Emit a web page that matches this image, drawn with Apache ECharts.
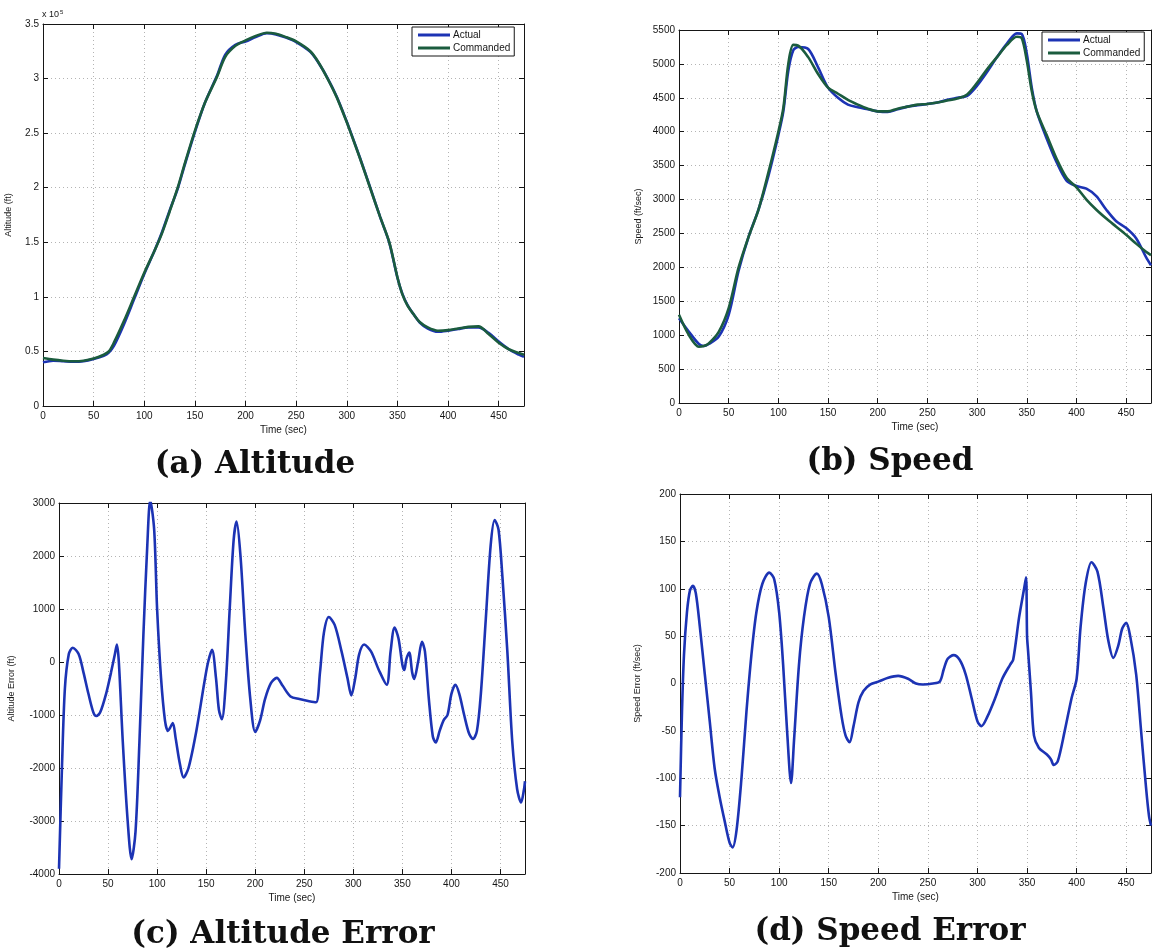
<!DOCTYPE html>
<html>
<head>
<meta charset="utf-8">
<title>Trajectory tracking</title>
<script src="https://cdn.jsdelivr.net/npm/echarts@6/dist/echarts.min.js"></script>
<style>
  html, body { margin: 0; padding: 0; background: #fff; }
  #chart { width: 1154px; height: 951px; }
</style>
</head>
<body>
<div id="chart"></div>
<script>
// ---- Altitude (ft) vs time (sec)
const altTime = [0,10,20,30,40,50,60,65,70,80,90,100,110,117,125,133,140,150,160,172,180,190,200,210,221,230,240,250,264,272,281,290,300,304,313,323,333,342,350,355,360,366,372,380,390,400,410,420,430,440,450,460,470,475];
const altCommanded = [44000,42500,41500,41000,41500,43500,47000,50000,58000,78000,100000,122000,142000,157000,178000,200000,222000,252000,278000,302000,320000,330000,335000,339000,342000,341000,338000,334000,325000,315000,300000,283000,260000,250000,227000,200000,173000,150000,118000,102000,92000,84000,77000,72000,69000,69500,71000,72500,73000,66000,58000,52000,48500,47000];
const altActual = [40000,41500,41000,40500,41000,43000,46000,49000,55000,75000,98000,121000,142000,158000,179000,199000,221000,251000,278000,303000,322000,331000,334000,338000,341500,340500,337500,333500,324500,314500,300500,283500,260500,250500,227500,200500,173000,149500,117500,102500,92500,84000,76500,71000,68000,69000,70500,72000,72000,67000,59000,52000,47000,45000];

// ---- Speed (ft/sec) vs time (sec)
const spdTime = [0,10,20,25,30,40,50,60,70,80,90,100,105,110,115,120,130,140,150,160,170,180,190,200,210,220,230,240,250,260,270,280,290,300,310,320,330,340,345,350,355,360,370,380,390,400,410,420,430,440,450,460,470,475];
const spdCommanded = [1300,1000,830,840,880,1050,1400,2000,2450,2850,3400,4000,4350,5000,5280,5270,5100,4850,4650,4560,4470,4400,4340,4300,4300,4340,4370,4400,4410,4430,4460,4490,4550,4720,4920,5100,5280,5400,5380,5050,4600,4300,3950,3600,3320,3180,3000,2850,2720,2600,2480,2350,2230,2180];
const spdActual = [1250,1050,870,840,870,980,1300,1950,2450,2850,3350,3950,4300,4900,5200,5250,5220,4950,4650,4500,4400,4360,4330,4300,4290,4330,4370,4390,4410,4430,4470,4500,4530,4680,4880,5100,5300,5450,5440,5150,4650,4300,3900,3550,3280,3200,3160,3050,2850,2680,2580,2430,2150,2030];

// ---- Altitude error (ft)
const altErrTime = [0,3,6,10,14,20,25,30,35,38,42,48,53,57,59,61,65,70,74,78,82,86,90,93,97,100,104,108,111,113,116,119,123,127,132,140,148,152,156,160,163,166,170,174,178,181,185,190,195,200,205,210,216,222,228,236,245,255,262,266,270,275,281,288,294,298,302,306,311,318,326,334,338,342,346,350,352,354,357,360,362,366,370,373,377,381,384,388,392,396,400,404,408,413,418,422,426,430,435,440,444,448,452,457,462,467,471,474,475];
const altErr = [-3900,-2000,-500,150,270,150,-200,-600,-950,-1020,-950,-600,-200,150,330,0,-1500,-3000,-3720,-3200,-1500,500,2200,3050,2500,1000,-300,-1100,-1300,-1250,-1150,-1450,-1900,-2180,-2000,-1300,-400,0,230,-300,-900,-1080,-400,1000,2300,2650,2000,500,-700,-1320,-1100,-700,-400,-300,-450,-650,-700,-740,-760,-200,550,850,700,200,-300,-630,-300,150,330,200,-150,-430,200,650,450,-50,-150,50,180,-200,-320,0,380,200,-700,-1400,-1520,-1300,-1100,-1000,-600,-430,-600,-1000,-1350,-1450,-1300,-600,800,2200,2680,2500,1600,200,-1500,-2400,-2650,-2400,-2250];

// ---- Speed error (ft/sec)
const spdErrTime = [0,2,4,7,10,13,16,20,25,30,35,40,45,50,53,57,62,67,72,77,83,90,95,100,104,108,112,115,120,125,131,138,143,150,157,163,167,171,175,180,185,192,200,210,220,230,238,245,255,262,266,270,276,282,288,294,300,304,310,318,325,333,336,342,347,349,350,351,354,357,362,370,374,377,381,388,395,400,404,409,415,421,427,432,437,442,446,450,454,460,465,470,473,475];
const spdErr = [-120,-30,30,75,98,103,95,60,10,-40,-90,-120,-145,-168,-173,-155,-100,-30,30,75,105,117,110,75,20,-50,-105,-60,20,70,105,116,105,70,10,-35,-55,-62,-45,-20,-8,-1,2,6,8,5,0,-1,0,2,15,26,30,25,10,-15,-40,-45,-35,-15,5,20,25,70,100,112,50,35,-10,-55,-68,-75,-80,-86,-82,-50,-15,5,60,105,128,118,80,45,27,40,58,64,50,10,-50,-110,-140,-150];

// ---- Tick settings
const timeMax = 475, timeStep = 50;
const altMax = 350000, altStep = 50000;
const spdMax = 5500, spdStep = 500;
const altErrMin = -4000, altErrMax = 3000, altErrStep = 1000;
const spdErrMin = -200, spdErrMax = 200, spdErrStep = 50;

const pairs = (xs, ys) => xs.map((x, i) => [x, ys[i]]);

const SANS = 'Liberation Sans, Arial, Helvetica, sans-serif';
const INK = '#161616';
const BLUE = '#1c33b4';
const GREEN = '#1b5c3e';

const grids = [
  { left: 43,  top: 24,  width: 481, height: 382 },   // (a)
  { left: 679, top: 30,  width: 472, height: 373 },   // (b)
  { left: 59,  top: 503, width: 466, height: 371 },   // (c)
  { left: 680, top: 494, width: 471, height: 379 }    // (d)
];

const gridLine = { show: true, lineStyle: { color: '#b4b4b4', type: [1, 3], width: 1 } };
const axisLine = { show: true, onZero: false, lineStyle: { color: INK, width: 1 } };
const tickIn = { show: true, inside: true, length: 5, lineStyle: { color: INK } };
const labelStyle = { color: INK, fontFamily: SANS, fontSize: 10 };
const plain = v => String(v);

function timeAxis(gi) {
  return {
    type: 'value', gridIndex: gi, min: 0, max: timeMax, interval: timeStep,
    name: 'Time (sec)', nameLocation: 'middle', nameGap: 19,
    nameTextStyle: { color: INK, fontFamily: SANS, fontSize: 10 },
    axisLine, axisTick: tickIn, splitLine: gridLine,
    axisLabel: Object.assign({ margin: 5, showMaxLabel: false, formatter: plain }, labelStyle)
  };
}
function timeAxisTop(gi) {
  return {
    type: 'value', gridIndex: gi, position: 'top', min: 0, max: timeMax, interval: timeStep,
    axisLine, axisTick: tickIn, splitLine: { show: false }, axisLabel: { show: false }
  };
}
function valueAxis(gi, min, max, step, name, gap, fmt) {
  return {
    type: 'value', gridIndex: gi, min, max, interval: step,
    name, nameLocation: 'middle', nameGap: gap,
    nameTextStyle: { color: INK, fontFamily: SANS, fontSize: 9 },
    axisLine, axisTick: tickIn, splitLine: gridLine,
    axisLabel: Object.assign({ margin: 4, formatter: fmt || plain }, labelStyle)
  };
}
function valueAxisRight(gi, min, max, step) {
  return {
    type: 'value', gridIndex: gi, position: 'right', min, max, interval: step,
    axisLine, axisTick: tickIn, splitLine: { show: false }, axisLabel: { show: false }
  };
}

const xAxis = [];
const yAxis = [];
for (let g = 0; g < 4; g++) { xAxis.push(timeAxis(g)); }
for (let g = 0; g < 4; g++) { xAxis.push(timeAxisTop(g)); }
yAxis.push(valueAxis(0, 0, altMax, altStep, 'Altitude (ft)', 30, v => String(v / 1e5)));
yAxis.push(valueAxis(1, 0, spdMax, spdStep, 'Speed (ft/sec)', 36));
yAxis.push(valueAxis(2, altErrMin, altErrMax, altErrStep, 'Altitude Error (ft)', 43));
yAxis.push(valueAxis(3, spdErrMin, spdErrMax, spdErrStep, 'Speed Error (ft/sec)', 38));
yAxis.push(valueAxisRight(0, 0, altMax, altStep));
yAxis.push(valueAxisRight(1, 0, spdMax, spdStep));
yAxis.push(valueAxisRight(2, altErrMin, altErrMax, altErrStep));
yAxis.push(valueAxisRight(3, spdErrMin, spdErrMax, spdErrStep));

function line(name, gi, data, color) {
  return {
    name, type: 'line', xAxisIndex: gi, yAxisIndex: gi, data,
    symbol: 'none', smooth: 0.3, clip: true,
    lineStyle: { color, width: 2.6 }, itemStyle: { color },
    animation: false
  };
}

const series = [
  line('Actual', 0, pairs(altTime, altActual), BLUE),
  line('Commanded', 0, pairs(altTime, altCommanded), GREEN),
  line('Actual', 1, pairs(spdTime, spdActual), BLUE),
  line('Commanded', 1, pairs(spdTime, spdCommanded), GREEN),
  line('Altitude Error', 2, pairs(altErrTime, altErr), BLUE),
  line('Speed Error', 3, pairs(spdErrTime, spdErr), BLUE)
];

function legendBox(left, top) {
  return {
    data: ['Actual', 'Commanded'], orient: 'vertical', left, top,
    backgroundColor: '#fff', borderColor: INK, borderWidth: 1,
    padding: [3, 4, 3, 6], itemGap: 3, itemWidth: 32, itemHeight: 3,
    icon: 'rect', selectedMode: false,
    textStyle: { color: INK, fontFamily: SANS, fontSize: 10, padding: [0, 0, 0, -2] }
  };
}

const captionFont = 'bold 31px "DejaVu Serif", serif';
function caption(text, cx, cy) {
  return {
    type: 'text', x: cx, y: cy,
    style: { text, font: captionFont, fill: '#111', align: 'center', verticalAlign: 'middle' }
  };
}

const chart = echarts.init(document.getElementById('chart'), null, { renderer: 'canvas' });
chart.setOption({
  backgroundColor: '#fff',
  animation: false,
  grid: grids.map(g => Object.assign({ containLabel: false }, g)),
  xAxis, yAxis, series,
  legend: [legendBox(412, 27), legendBox(1042, 32)],
  graphic: [
    {
      type: 'text', x: 42, y: 9,
      style: {
        text: '{b|x 10}{s|5}', font: '9px ' + SANS, fill: INK,
        rich: { b: { fontFamily: SANS, fontSize: 9, fill: INK }, s: { fontFamily: SANS, fontSize: 6, fill: INK, verticalAlign: 'top', padding: [0, 0, 5, 1] } }
      }
    },
    caption('(a) Altitude', 255, 465),
    caption('(b) Speed', 890, 462),
    caption('(c) Altitude Error', 283, 935),
    caption('(d) Speed Error', 890, 932)
  ]
});
</script>
</body>
</html>
